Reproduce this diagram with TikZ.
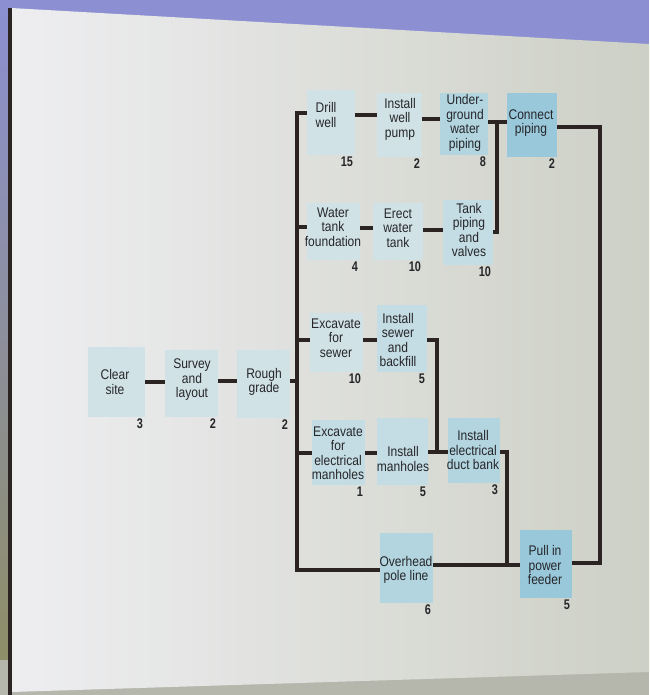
\documentclass[tikz,border=0pt]{standalone}
\usepackage{fontspec}
\usetikzlibrary{fit}
\newfontfamily\boxfont{Liberation Sans}[FakeStretch=0.86]
\newfontfamily\numfont{Liberation Sans}[FakeStretch=0.78]
\definecolor{boxc}{HTML}{C4DCE3}
\definecolor{boxlt}{HTML}{D0E2E6}
\definecolor{boxmd}{HTML}{B2D5E0}
\definecolor{boxdk}{HTML}{98C8DA}
\definecolor{linec}{HTML}{2B2422}
\definecolor{txt}{HTML}{26262A}
\definecolor{bgpurple}{HTML}{8C8FD2}
\definecolor{olivec}{HTML}{8E8E62}
\definecolor{pagew}{HTML}{EEEEF1}
\definecolor{pageg}{HTML}{CDD0C5}
\definecolor{botg}{HTML}{B6B7AC}
\newcommand\actbox[7][boxc]{%
  \node[fit={(#3) (#4)}, inner sep=0pt, fill=#1] (#2) {};
  \node[lbl] (#2-t) at (#5) {#6};
  \node[num] (#2-n) at ([xshift=-2pt,yshift=-1pt]#2.south east) {#7};}
\begin{document}
\begin{tikzpicture}[x=1pt,y=-1pt,
  lbl/.style={font=\boxfont\fontsize{14}{14.5}\selectfont, align=center, text=txt, inner sep=0pt},
  num/.style={font=\numfont\bfseries\fontsize{14}{14}\selectfont, text=txt, inner sep=0pt, anchor=north east},
  link/.style={draw=linec, line width=3.2pt, line join=miter}]
\useasboundingbox (0,0) rectangle (649,695);
% background (photographed page)
\fill[bgpurple] (0,0) rectangle (649,695);
\shade[top color=bgpurple, bottom color=olivec] (0,0) rectangle (11,695);
\fill[botg] (0,660) rectangle (649,695);
\shade[left color=pagew, middle color=pagew, right color=pageg] (11,8) -- (649,44) -- (649,672) -- (11,692) -- cycle;
\draw[linec, line width=4pt] (10,8) -- (10,695);

% activities
\actbox[boxlt]{clear}{88,347}{145,417}{115,382}{Clear\\site}{3}
\actbox[boxlt]{survey}{165,350}{218,417}{192,380}{Survey\\and\\layout}{2}
\actbox[boxlt]{rough}{237,350}{290,418}{264,382}{Rough\\grade}{2}
\actbox[boxlt]{drill}{307,90}{355,155}{326,115}{Drill\\well}{15}
\actbox[boxlt]{pump}{377,93}{422,157}{400,119}{Install\\well\\pump}{2}
\actbox[boxmd]{under}{440,93}{488,155}{465,123}{Under-\\ground\\water\\piping}{8}
\actbox[boxdk]{connect}{507,93}{557,157}{531,123}{Connect\\piping}{2}
\actbox[boxlt]{wtf}{307,203}{360,260}{333,227}{Water\\tank\\foundation}{4}
\actbox[boxlt]{erect}{373,203}{423,260}{398,228}{Erect\\water\\tank}{10}
\actbox[boxc]{tankpv}{443,200}{493,265}{469,230}{Tank\\piping\\and\\valves}{10}
\actbox[boxlt]{excsewer}{310,313}{363,372}{336,338}{Excavate\\for\\sewer}{10}
\actbox[boxc]{instsewer}{377,305}{427,372}{398,340}{Install\\sewer\\and\\backfill}{5}
\actbox[boxc]{excelec}{312,420}{365,485}{338,453}{Excavate\\for\\electrical\\manholes}{1}
\actbox[boxc]{instman}{377,418}{428,485}{403,459}{Install\\manholes}{5}
\actbox[boxmd]{duct}{448,418}{500,483}{473,450}{Install\\electrical\\duct bank}{3}
\actbox[boxmd]{overhead}{380,533}{433,603}{406,570}{Overhead\\pole line}{6}
\actbox[boxdk]{pullin}{520,530}{572,598}{545,565}{Pull in\\power\\feeder}{5}

% connectors
\coordinate (bt) at (297,113);
\coordinate (bb) at (297,570);
\coordinate (jA) at (497,122);
\coordinate (jB) at (497,232);
\coordinate (jC) at (600,127);
\coordinate (jD) at (600,563);
\coordinate (jE) at (437,340);
\coordinate (jF) at (437,452);
\coordinate (jG) at (507,452);
\coordinate (jH) at (507,565);

\draw[link] (drill.west |- bt) -- (bt) -- (bb) -- (overhead.west |- bb);
\draw[link] (clear.east |- 0,382) -- (survey.west |- 0,382);
\draw[link] (survey.east |- 0,381) -- (rough.west |- 0,381);
\draw[link] (rough.east |- 0,381) -- (bt |- 0,381);

\draw[link] (drill.east |- 0,115) -- (pump.west |- 0,115);
\draw[link] (pump.east |- 0,119) -- (under.west |- 0,119);
\draw[link] (under.east |- jA) -- (connect.west |- jA);
\draw[link] (tankpv.east |- jB) -- (jB) -- (jA);
\draw[link] (connect.east |- jC) -- (jC) -- (jD) -- (pullin.east |- jD);

\draw[link] (bt |- 0,227) -- (wtf.west |- 0,227);
\draw[link] (wtf.east |- 0,228) -- (erect.west |- 0,228);
\draw[link] (erect.east |- 0,230) -- (tankpv.west |- 0,230);

\draw[link] (bt |- 0,340) -- (excsewer.west |- 0,340);
\draw[link] (excsewer.east |- 0,340) -- (instsewer.west |- 0,340);
\draw[link] (instsewer.east |- jE) -- (jE) -- (jF);

\draw[link] (bt |- 0,453) -- (excelec.west |- 0,453);
\draw[link] (excelec.east |- 0,453) -- (instman.west |- 0,453);
\draw[link] (instman.east |- jF) -- (duct.west |- jF);
\draw[link] (duct.east |- jG) -- (jG) -- (jH);
\draw[link] (overhead.east |- jH) -- (pullin.west |- jH);
\end{tikzpicture}
\end{document}
